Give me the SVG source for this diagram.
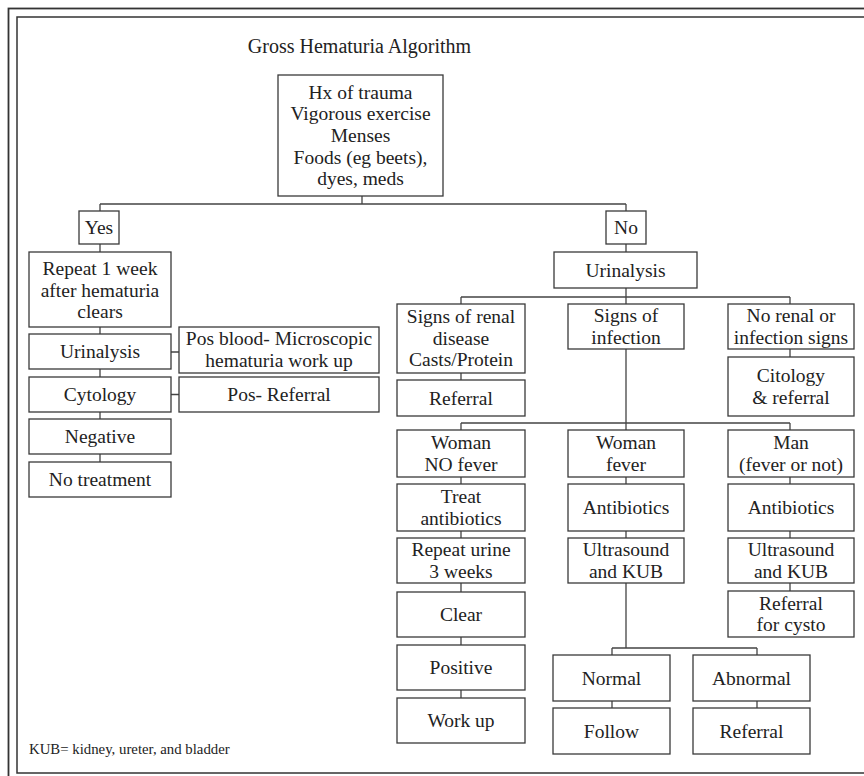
<svg xmlns="http://www.w3.org/2000/svg" width="864" height="776" viewBox="0 0 864 776">
<style>
.bx{fill:#fff;stroke:#3a3a3a;stroke-width:1.3}
.t{font-family:"Liberation Serif","Times New Roman",serif;font-size:19.5px;fill:#222;text-anchor:middle}
.c{fill:none;stroke:#444;stroke-width:1.3}
.fr{fill:none;stroke:#333}
</style>
<rect width="864" height="776" fill="#fff"/>
<g id="frame">
<rect class="fr" x="8.5" y="8.5" width="900" height="800" stroke-width="1.8"/>
<rect class="fr" x="17" y="17" width="900" height="756" stroke-width="1.5"/>
</g>
<text id="title" class="t" x="359.5" y="53" style="font-size:20px">Gross Hematuria Algorithm</text>
<g id="connectors" class="c">
<path d="M362 196V204M100 204H626M100 204V211M626 204V211"/>
<path d="M100 244V252M100 327V334M100 369V377M100 412V419M100 454V462"/>
<path d="M171 352H179M171 394.5H179"/>
<path d="M626 244V252M626 288V297M461 297H790M461 297V304M626 297V304M790 297V304"/>
<path d="M461 373V380M790 349V357M626 349V423M461 423H790M461 423V430M626 423V430M790 423V430"/>
<path d="M461 477V484M626 477V484M790 477V484M461 531V538M626 531V538M790 531V538"/>
<path d="M790 583V591M461 583V592M461 637V645M461 690V698"/>
<path d="M626 583V648M612 648H757M612 648V655M757 648V655M612 701V708M757 701V708"/>
</g>
<g id="n-top"><rect class="bx" x="278" y="75" width="165" height="121"/>
<text class="t" x="360.5" y="98.6">Hx of trauma</text>
<text class="t" x="360.5" y="120.3">Vigorous exercise</text>
<text class="t" x="360.5" y="142">Menses</text>
<text class="t" x="360.5" y="163.7">Foods (eg beets),</text>
<text class="t" x="360.5" y="185.4">dyes, meds</text></g>
<g id="n-yes"><rect class="bx" x="79" y="211" width="40" height="33"/><text class="t" x="99" y="234">Yes</text></g>
<g id="n-no"><rect class="bx" x="606" y="211" width="40" height="33"/><text class="t" x="626" y="234">No</text></g>
<g id="n-repeat"><rect class="bx" x="29" y="252" width="142" height="75"/>
<text class="t" x="100" y="275">Repeat 1 week</text>
<text class="t" x="100" y="296.5">after hematuria</text>
<text class="t" x="100" y="318">clears</text></g>
<g id="n-urin-l"><rect class="bx" x="29" y="334" width="142" height="35"/><text class="t" x="100" y="358">Urinalysis</text></g>
<g id="n-cyto"><rect class="bx" x="29" y="377" width="142" height="35"/><text class="t" x="100" y="401">Cytology</text></g>
<g id="n-neg"><rect class="bx" x="29" y="419" width="142" height="35"/><text class="t" x="100" y="443">Negative</text></g>
<g id="n-notreat"><rect class="bx" x="29" y="462" width="142" height="35"/><text class="t" x="100" y="486">No treatment</text></g>
<g id="n-posblood"><rect class="bx" x="179" y="327" width="200" height="46"/>
<text class="t" x="279" y="345">Pos blood- Microscopic</text>
<text class="t" x="279" y="366.5">hematuria work up</text></g>
<g id="n-posref"><rect class="bx" x="179" y="377" width="200" height="35"/><text class="t" x="279" y="401">Pos- Referral</text></g>
<g id="n-urin-r"><rect class="bx" x="554" y="252" width="143" height="36"/><text class="t" x="625.5" y="276.5">Urinalysis</text></g>
<g id="n-renal"><rect class="bx" x="397" y="304" width="128" height="69"/>
<text class="t" x="461" y="323">Signs of renal</text>
<text class="t" x="461" y="344.5">disease</text>
<text class="t" x="461" y="366">Casts/Protein</text></g>
<g id="n-infect"><rect class="bx" x="568" y="304" width="116" height="45"/>
<text class="t" x="626" y="322">Signs of</text>
<text class="t" x="626" y="343.5">infection</text></g>
<g id="n-norenal"><rect class="bx" x="728" y="304" width="126" height="45"/>
<text class="t" x="791" y="322">No renal or</text>
<text class="t" x="791" y="343.5">infection signs</text></g>
<g id="n-referral1"><rect class="bx" x="397" y="380" width="128" height="36"/><text class="t" x="461" y="404.5">Referral</text></g>
<g id="n-citology"><rect class="bx" x="728" y="357" width="126" height="59"/>
<text class="t" x="791" y="382">Citology</text>
<text class="t" x="791" y="403.5">&amp; referral</text></g>
<g id="n-wnofever"><rect class="bx" x="397" y="430" width="128" height="47"/>
<text class="t" x="461" y="449">Woman</text>
<text class="t" x="461" y="470.5">NO fever</text></g>
<g id="n-wfever"><rect class="bx" x="568" y="430" width="116" height="47"/>
<text class="t" x="626" y="449">Woman</text>
<text class="t" x="626" y="470.5">fever</text></g>
<g id="n-man"><rect class="bx" x="728" y="430" width="126" height="47"/>
<text class="t" x="791" y="449">Man</text>
<text class="t" x="791" y="470.5">(fever or not)</text></g>
<g id="n-treat"><rect class="bx" x="397" y="484" width="128" height="47"/>
<text class="t" x="461" y="503">Treat</text>
<text class="t" x="461" y="524.5">antibiotics</text></g>
<g id="n-abx-m"><rect class="bx" x="568" y="484" width="116" height="47"/><text class="t" x="626" y="514">Antibiotics</text></g>
<g id="n-abx-r"><rect class="bx" x="728" y="484" width="126" height="47"/><text class="t" x="791" y="514">Antibiotics</text></g>
<g id="n-repeaturine"><rect class="bx" x="397" y="538" width="128" height="45"/>
<text class="t" x="461" y="556">Repeat urine</text>
<text class="t" x="461" y="577.5">3 weeks</text></g>
<g id="n-us-m"><rect class="bx" x="568" y="538" width="116" height="45"/>
<text class="t" x="626" y="556">Ultrasound</text>
<text class="t" x="626" y="577.5">and KUB</text></g>
<g id="n-us-r"><rect class="bx" x="728" y="538" width="126" height="45"/>
<text class="t" x="791" y="556">Ultrasound</text>
<text class="t" x="791" y="577.5">and KUB</text></g>
<g id="n-cysto"><rect class="bx" x="728" y="591" width="126" height="46"/>
<text class="t" x="791" y="609.5">Referral</text>
<text class="t" x="791" y="631">for cysto</text></g>
<g id="n-clear"><rect class="bx" x="397" y="592" width="128" height="45"/><text class="t" x="461" y="621">Clear</text></g>
<g id="n-positive"><rect class="bx" x="397" y="645" width="128" height="45"/><text class="t" x="461" y="674">Positive</text></g>
<g id="n-workup"><rect class="bx" x="397" y="698" width="128" height="45"/><text class="t" x="461" y="727">Work up</text></g>
<g id="n-normal"><rect class="bx" x="553" y="655" width="117" height="46"/><text class="t" x="611.5" y="684.5">Normal</text></g>
<g id="n-abnormal"><rect class="bx" x="693" y="655" width="117" height="46"/><text class="t" x="751.5" y="684.5">Abnormal</text></g>
<g id="n-follow"><rect class="bx" x="553" y="708" width="117" height="46"/><text class="t" x="611.5" y="737.5">Follow</text></g>
<g id="n-referral2"><rect class="bx" x="693" y="708" width="117" height="46"/><text class="t" x="751.5" y="737.5">Referral</text></g>
<text id="footer" x="29" y="754" style="font-family:'Liberation Serif','Times New Roman',serif;font-size:14.8px;fill:#222">KUB= kidney, ureter, and bladder</text>
</svg>
